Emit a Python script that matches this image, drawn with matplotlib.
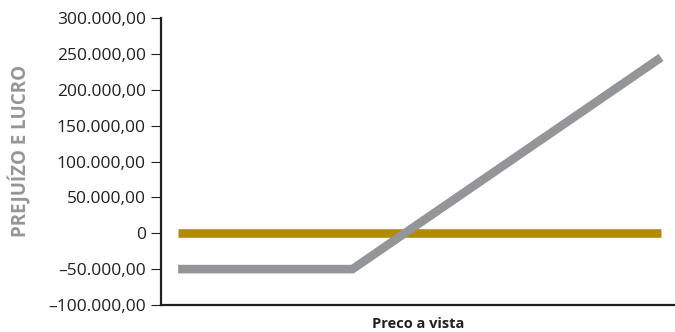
import matplotlib.pyplot as plt
from matplotlib.ticker import FixedLocator

# dados do grafico (eixo x sem escala, apenas posicao relativa)
x_zero = [0, 277]
y_zero = [0, 0]
x_pos = [0, 100, 277]
y_pos = [-50000, -50000, 245000]

yticks = [-100000, -50000, 0, 50000, 100000, 150000, 200000, 250000, 300000]
ylabels = ['\u2013100.000,00', '\u201350.000,00', '0', '50.000,00', '100.000,00',
           '150.000,00', '200.000,00', '250.000,00', '300.000,00']

plt.rcParams['font.family'] = ['Open Sans', 'DejaVu Sans']

fig = plt.figure(figsize=(6.75, 3.32), dpi=100)
ax = fig.add_axes([161 / 675, 27 / 332, 514 / 675, 287 / 332])

ax.plot(x_zero, y_zero, color='#B38A06', lw=6.2, solid_capstyle='butt')
ax.plot(x_pos, y_pos, color='#939598', lw=6.2, solid_capstyle='butt', solid_joinstyle='miter')

ax.set_ylim(-100000, 300000)
ax.set_xlim(-9.8, 285)
ax.yaxis.set_major_locator(FixedLocator(yticks))
ax.set_yticklabels(ylabels, fontsize=12.5, color='#231f20')
ax.set_xticks([])

for s in ['top', 'right']:
    ax.spines[s].set_visible(False)
for s in ['left', 'bottom']:
    ax.spines[s].set_linewidth(1.6)
    ax.spines[s].set_color('#231f20')
ax.tick_params(axis='y', length=7, width=0.8, color='#231f20', pad=4)

ax.set_xlabel('Preco a vista', fontsize=10.5, fontweight='bold', color='#231f20', labelpad=9)
fig.text(0.03, 0.544, 'PREJUÍZO E LUCRO', rotation=90, fontsize=13.5, fontweight='bold',
         color='#939598', ha='center', va='center')

fig.savefig('out.png', dpi=100)
